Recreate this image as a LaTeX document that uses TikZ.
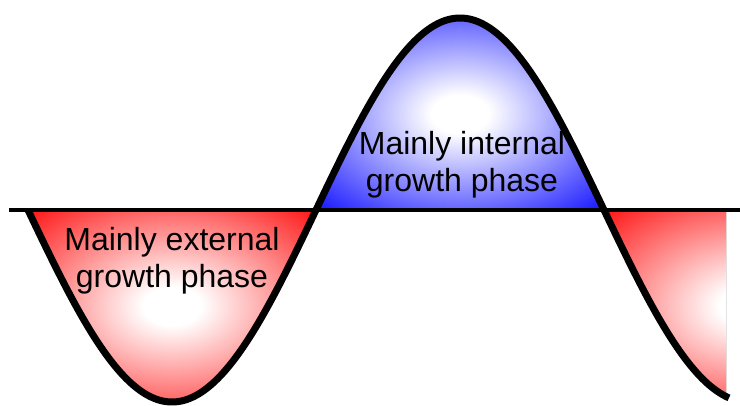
\documentclass[tikz,border=0pt]{standalone}
\usepackage{fontspec}
\setmainfont{Liberation Sans}
\pgfdeclareradialshading{redglow}{\pgfpoint{0bp}{0bp}}{color(0bp)=(white); color(5bp)=(white); color(38bp)=(red); color(50bp)=(red)}
\pgfdeclareradialshading{blueglow}{\pgfpoint{0bp}{0bp}}{color(0bp)=(white); color(5bp)=(white); color(38bp)=(blue); color(50bp)=(blue)}
\begin{document}
\begin{tikzpicture}[x=1pt,y=1pt,
  wave/.style={line width=7pt, black},
  axisline/.style={line width=3.3pt, black},
  phaselabel/.style={font=\fontsize{32}{37}\selectfont, align=center, inner sep=0pt, text=black}]
\useasboundingbox (0,0) rectangle (740,405);
% fills
\fill[shading=redglow] plot[domain=28:316, samples=120] (\x,{195-192*sin(0.625*(\x-28))}) -- cycle;
\fill[shading=blueglow] plot[domain=316:604, samples=120] (\x,{195-192*sin(0.625*(\x-28))}) -- cycle;
\begin{scope}
  \clip (604,195) rectangle (726,0);
  \fill[shading=redglow] plot[domain=604:892, samples=120] (\x,{195-192*sin(0.625*(\x-28))}) -- cycle;
\end{scope}
% axis
\coordinate (L) at (9,195);
\coordinate (R) at (740,195);
\draw[axisline] (L) -- (R);
% wave
\draw[wave] plot[domain=28:729, samples=300] (\x,{195-192*sin(0.625*(\x-28))});
% labels
\node[phaselabel] (ext) at (172,143.8) {Mainly external\\growth phase};
\node[phaselabel] (int) at (462,239.9) {Mainly internal\\growth phase};
\end{tikzpicture}
\end{document}
